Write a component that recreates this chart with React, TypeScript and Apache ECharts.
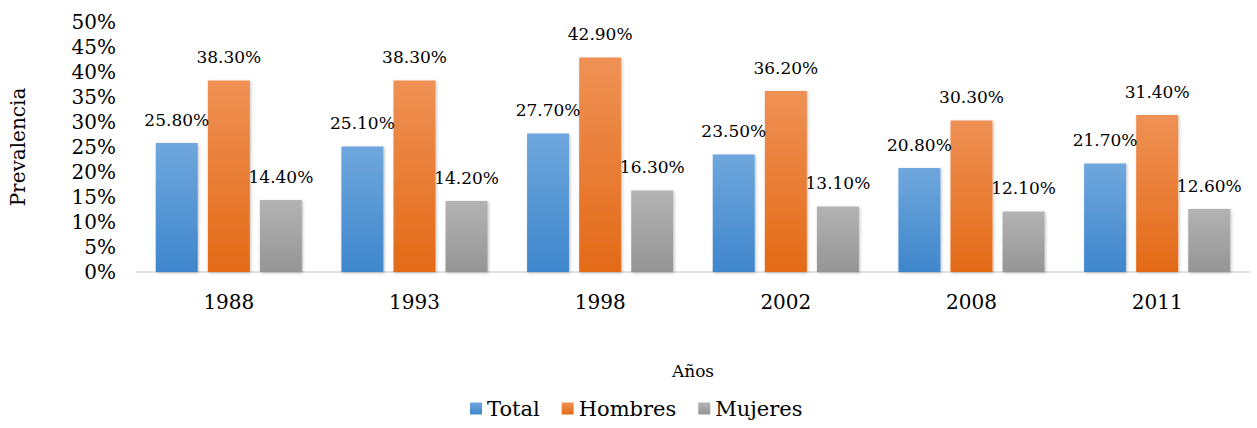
import React, { useEffect, useRef } from "react";
import * as echarts from "echarts";

const years = ["1988", "1993", "1998", "2002", "2008", "2011"];
const totalValues = [25.8, 25.1, 27.7, 23.5, 20.8, 21.7];
const hombresValues = [38.3, 38.3, 42.9, 36.2, 30.3, 31.4];
const mujeresValues = [14.4, 14.2, 16.3, 13.1, 12.1, 12.6];
const seriesNames = ["Total", "Hombres", "Mujeres"];

const FONT = "DejaVu Serif";

function grad(top: string, bottom: string) {
  return new echarts.graphic.LinearGradient(0, 0, 0, 1, [
    { offset: 0, color: top },
    { offset: 1, color: bottom },
  ]);
}

export default function App() {
  const ref = useRef<HTMLDivElement>(null);
  useEffect(() => {
    if (!ref.current) return;
    const chart = echarts.init(ref.current, undefined, { renderer: "svg" });
    const mk = (name: string, data: number[], top: string, bottom: string) => ({
      name,
      type: "bar",
      data,
      barWidth: 42,
      barGap: "24%",
      itemStyle: {
        color: grad(top, bottom),
        shadowBlur: 3,
        shadowColor: "rgba(0,0,0,0.25)",
        shadowOffsetX: 1,
        shadowOffsetY: 1,
      },
      label: {
        show: true,
        position: "top",
        distance: 15,
        formatter: (p: any) => p.value.toFixed(2) + "%",
        fontFamily: FONT,
        fontSize: 17,
        color: "#000",
      },
    });
    const series = [
      mk(seriesNames[0], totalValues, "#6fa7dd", "#3f86cc"),
      mk(seriesNames[1], hombresValues, "#ef9155", "#e36a17"),
      mk(seriesNames[2], mujeresValues, "#b3b3b3", "#959595"),
    ];
    chart.setOption({
      animation: false,
      color: ["#4a8fd3", "#ec7a2c", "#a5a5a5"],
      grid: { left: 132, right: 7, top: 22, bottom: 156, containLabel: false },
      legend: {
        data: seriesNames,
        left: 465,
        bottom: 4,
        itemWidth: 12,
        itemHeight: 12,
        itemGap: 22,
        icon: "rect",
        textStyle: { fontFamily: FONT, fontSize: 21, color: "#000" },
      },
      xAxis: {
        type: "category",
        data: years,
        name: "Años",
        nameLocation: "middle",
        nameGap: 90,
        nameTextStyle: { fontFamily: FONT, fontSize: 17, color: "#000" },
        axisLine: { lineStyle: { color: "#d9d9d9", width: 1.5 } },
        axisTick: { show: false },
        axisLabel: { fontFamily: FONT, fontSize: 20, color: "#000", margin: 20 },
      },
      yAxis: {
        type: "value",
        min: 0,
        max: 50,
        interval: 5,
        name: "Prevalencia",
        nameLocation: "middle",
        nameGap: 108,
        nameTextStyle: { fontFamily: FONT, fontSize: 20, color: "#000" },
        splitLine: { show: false },
        axisLine: { show: false },
        axisTick: { show: false },
        axisLabel: {
          fontFamily: FONT,
          fontSize: 20,
          color: "#000",
          margin: 20,
          formatter: (v: number) => v + "%",
        },
      },
      series,
    });
    return () => chart.dispose();
  }, []);
  return (
    <div
      ref={ref}
      style={{ position: "fixed", left: 0, top: 0, width: 1257, height: 428, background: "#fff" }}
    />
  );
}
